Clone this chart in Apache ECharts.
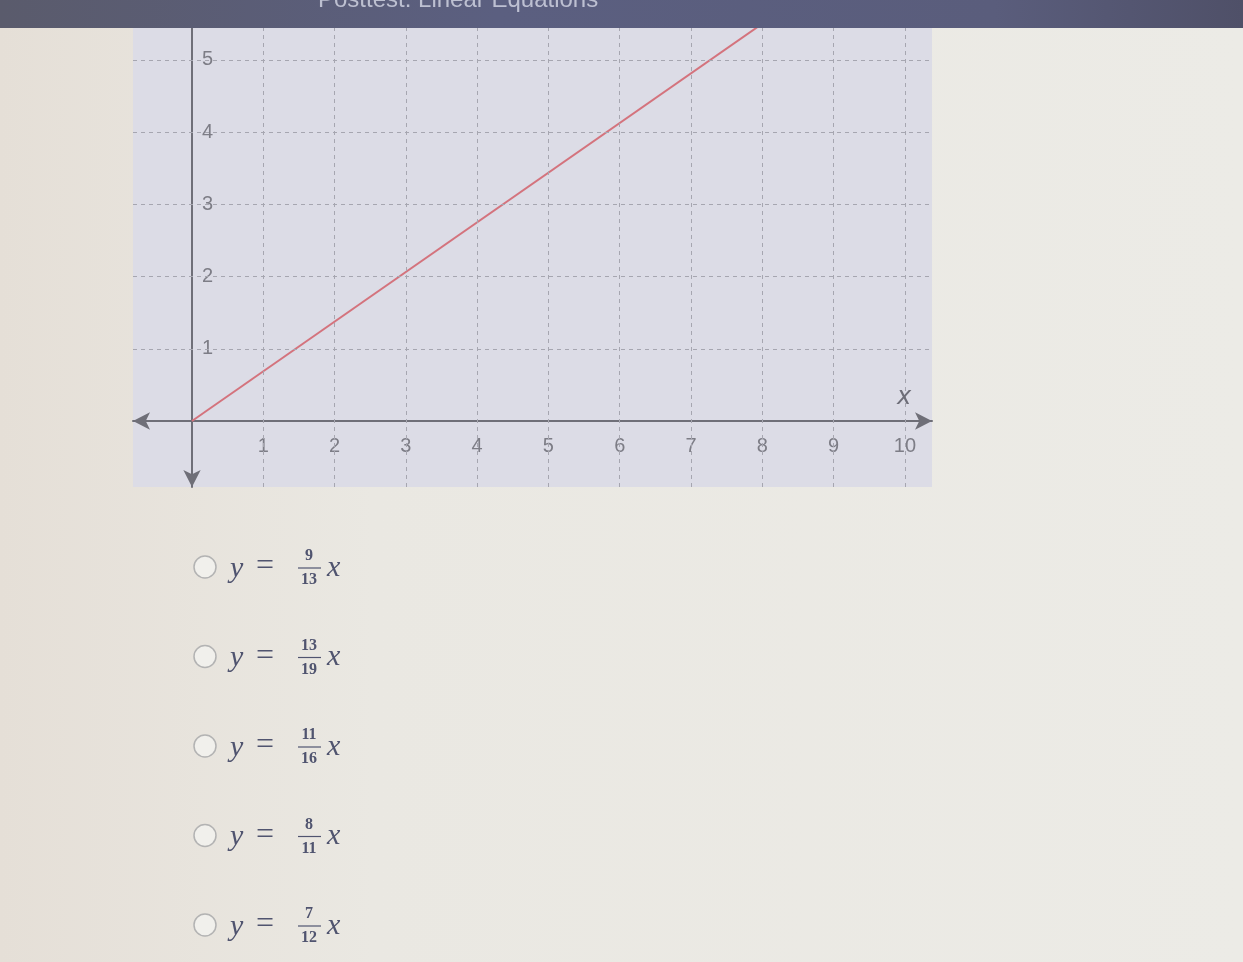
<!DOCTYPE html>
<html>
<head>
<meta charset="utf-8">
<script src="https://cdn.jsdelivr.net/npm/echarts@6/dist/echarts.min.js"></script>
<style>
html,body{margin:0;padding:0;background:#e9e7e1;}
#c{width:1243px;height:962px;}
</style>
</head>
<body>
<div id="c"></div>
<script>
// ---- data ----
const xTickValues = [1, 2, 3, 4, 5, 6, 7, 8, 9, 10];
const yTickValues = [1, 2, 3, 4, 5];
const lineX = [0, 8];
const lineY = [0, 5.5];
const choiceNumerators = [9, 13, 11, 8, 7];
const choiceDenominators = [13, 19, 16, 11, 12];
const headerTitle = 'Posttest: Linear Equations';

const chart = echarts.init(document.getElementById('c'), null, {renderer: 'canvas'});

const lineData = lineX.map((x, i) => [x, lineY[i]]);
const gridLines = [
  ...xTickValues.map(v => ({xAxis: v})),
  ...yTickValues.map(v => ({yAxis: v}))
];

const mathColor = '#50546f';
const graphics = [];
// header bar
graphics.push({
  type: 'rect', z: 100, shape: {x: 0, y: 0, width: 1243, height: 28},
  style: {fill: new echarts.graphic.LinearGradient(0, 0, 1, 0, [
    {offset: 0, color: '#5a5b6c'}, {offset: 0.4, color: '#5b5f80'},
    {offset: 0.8, color: '#5a5d7c'}, {offset: 1, color: '#4f5068'}])}
});
graphics.push({
  type: 'text', z: 101, left: 318, top: -12,
  style: {text: headerTitle, fontSize: 24, fill: '#d6d8e6', fontFamily: 'Liberation Sans', opacity: 0.8}
});
// x axis name
graphics.push({
  type: 'text', z: 10, left: 897, top: 386,
  style: {text: 'x', fontSize: 24, fontStyle: 'italic', fill: '#6e6e78', fontFamily: 'DejaVu Sans'}
});
// answer choices
choiceNumerators.forEach((n, i) => {
  const cy = 567 + i * 89.5;
  graphics.push({
    type: 'circle', z: 10, shape: {cx: 205, cy: cy, r: 11},
    style: {fill: '#f1f0ec', stroke: '#b3b3b3', lineWidth: 1.5}
  });
  graphics.push({
    type: 'text', z: 10, x: 230, y: cy + 2,
    style: {text: 'y', fontSize: 30, fontStyle: 'italic', fontFamily: 'Liberation Serif', fill: mathColor, verticalAlign: 'middle'}
  });
  graphics.push({
    type: 'text', z: 10, x: 256, y: cy,
    style: {text: '=', fontSize: 32, fontFamily: 'Liberation Serif', fill: mathColor, verticalAlign: 'middle'}
  });
  graphics.push({
    type: 'text', z: 10, x: 309, y: cy - 11,
    style: {text: String(n), fontSize: 16, fontWeight: 'bold', fontFamily: 'Liberation Serif', fill: mathColor, align: 'center', verticalAlign: 'middle'}
  });
  graphics.push({
    type: 'line', z: 10, shape: {x1: 298, y1: cy + 1, x2: 321, y2: cy + 1},
    style: {stroke: mathColor, lineWidth: 1.2}
  });
  graphics.push({
    type: 'text', z: 10, x: 309, y: cy + 13,
    style: {text: String(choiceDenominators[i]), fontSize: 16, fontWeight: 'bold', fontFamily: 'Liberation Serif', fill: mathColor, align: 'center', verticalAlign: 'middle'}
  });
  graphics.push({
    type: 'text', z: 10, x: 327, y: cy + 1,
    style: {text: 'x', fontSize: 30, fontStyle: 'italic', fontFamily: 'Liberation Serif', fill: mathColor, verticalAlign: 'middle'}
  });
});

const axisColor = '#6f6f78';
const labelStyle = {fontSize: 20, color: '#7d7d86', fontFamily: 'Liberation Sans'};

chart.setOption({
  animation: false,
  backgroundColor: new echarts.graphic.LinearGradient(0, 0, 1, 0, [
    {offset: 0, color: '#e5dfd7'}, {offset: 0.3, color: '#eae8e2'}, {offset: 1, color: '#ecebe6'}]),
  grid: {left: 133, top: 28, width: 799, height: 459, show: true, backgroundColor: '#dcdce6', borderWidth: 0},
  xAxis: {
    type: 'value', min: -0.827, max: 10.38, z: 3, position: 'bottom', offset: -66,
    axisLine: {onZero: false, symbol: ['arrow', 'arrow'], symbolSize: [13, 17], lineStyle: {color: axisColor, width: 2}},
    splitLine: {show: false},
    axisTick: {show: false},
    axisLabel: Object.assign({customValues: xTickValues, margin: 15}, labelStyle)
  },
  yAxis: {
    type: 'value', min: -0.913, max: 5.44, z: 3, position: 'left', offset: -59,
    axisLine: {onZero: false, symbol: ['arrow', 'none'], symbolSize: [13, 17], lineStyle: {color: axisColor, width: 2}},
    splitLine: {show: false},
    axisTick: {show: false},
    axisLabel: Object.assign({customValues: yTickValues, inside: true, margin: 10}, labelStyle)
  },
  series: [
    {
      type: 'line', data: [[0, 0]], symbol: 'none', z: 1,
      lineStyle: {opacity: 0},
      markLine: {
        silent: true, symbol: ['none', 'none'], label: {show: false},
        lineStyle: {type: [4, 4], color: '#a6a6b0', width: 1},
        emphasis: {disabled: true},
        data: gridLines
      }
    },
    {
      type: 'line', data: lineData, symbol: 'none', z: 4, clip: true,
      lineStyle: {color: '#d4737d', width: 2}
    }
  ],
  graphic: graphics
});
</script>
</body>
</html>
